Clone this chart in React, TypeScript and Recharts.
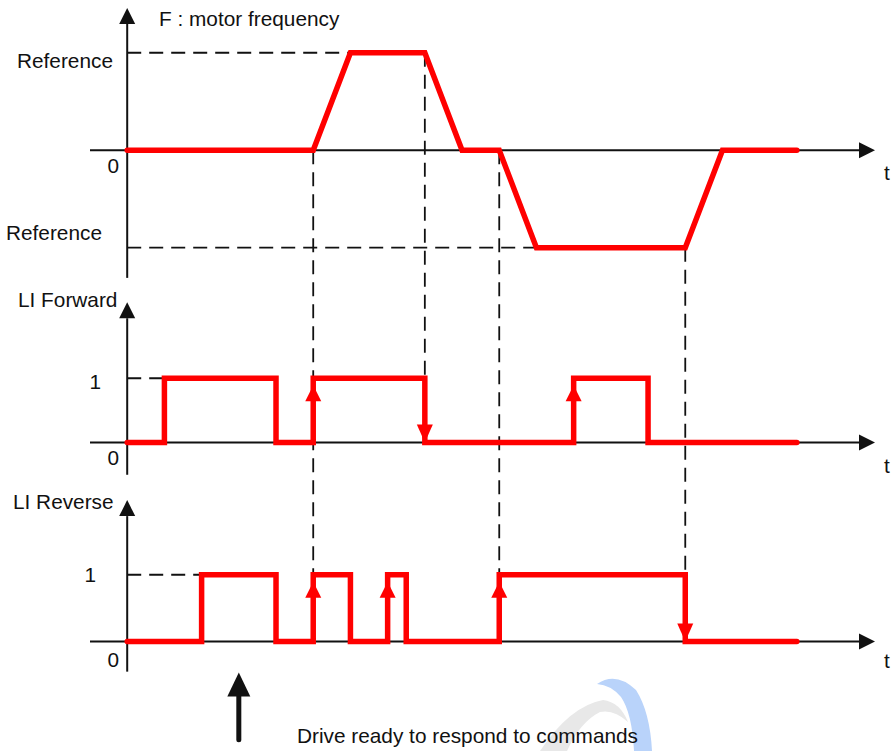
import { ComposedChart, Line, XAxis, YAxis, ReferenceLine, ReferenceDot } from "recharts";

// signal transitions: time (in ramp units) and level
const freqTimes = [0, 5, 6, 8, 9, 10, 11, 15, 16, 18];
const freqLevels = [0, 0, 1, 1, 0, 0, -1, -1, 0, 0];
const fwdTimes = [0, 1, 4, 5, 8, 12, 14, 18];
const fwdLevels = [0, 1, 0, 1, 0, 1, 0, 0];
const revTimes = [0, 2, 4, 5, 6, 7, 7.5, 10, 15, 18];
const revLevels = [0, 1, 0, 1, 0, 1, 0, 1, 0, 0];

// command edges marked with arrows
const fwdRises = [5, 12];
const fwdFalls = [8];
const revRises = [5, 7, 10];
const revFalls = [15];
const readyTime = 3;

// text
const laneTitles = ["F : motor frequency", "LI Forward", "LI Reverse"];
const levelLabels = ["Reference", "0", "Reference", "1", "0", "1", "0"];
const timeLabel = "t";
const note = "Drive ready to respond to commands";

type LaneKey = "freq" | "fwd" | "rev";

// dashed guides
const levelGuides: { lane: LaneKey; level: number; until: number }[] = [
  { lane: "freq", level: 1, until: 6 },
  { lane: "freq", level: -1, until: 11 },
  { lane: "fwd", level: 1, until: 1 },
  { lane: "rev", level: 1, until: 2 },
];
const timeGuides: { t: number; from: [LaneKey, number]; to: [LaneKey, number] }[] = [
  { t: 5, from: ["freq", 0], to: ["rev", 1] },
  { t: 8, from: ["freq", 1], to: ["fwd", 0] },
  { t: 10, from: ["freq", 0], to: ["rev", 1] },
  { t: 15, from: ["freq", -1], to: ["rev", 1] },
];

// layout of the three stacked lanes on the shared y axis
const lanes: Record<LaneKey, { base: number; gain: number; top: number; bottom: number }> = {
  freq: { base: 0, gain: 1, top: 1.46, bottom: -1.31 },
  fwd: { base: -3, gain: 0.66, top: 1.44, bottom: -0.33 },
  rev: { base: -5.04, gain: 0.684, top: 1.45, bottom: -0.31 },
};
const laneKeys: LaneKey[] = ["freq", "fwd", "rev"];

const laneY = (lane: LaneKey, v: number) => lanes[lane].base + lanes[lane].gain * v;
const rows = (times: number[], levels: number[], lane: LaneKey) =>
  times.map((t, i) => ({ t, y: laneY(lane, levels[i]) }));

const RED = "#ff0000";
const INK = "#111";
const FONT = '"Liberation Sans", Arial, sans-serif';

function AxisArrow(props: any) {
  const { x1, y1, x2, y2 } = props;
  const dx = x2 - x1;
  const dy = y2 - y1;
  const len = Math.hypot(dx, dy) || 1;
  const ux = dx / len;
  const uy = dy / len;
  const bx = x2 - ux * 16;
  const by = y2 - uy * 16;
  return (
    <g>
      <line x1={x1} y1={y1} x2={bx} y2={by} stroke={INK} strokeWidth={2} />
      <polygon
        points={`${x2},${y2} ${bx - uy * 8},${by + ux * 8} ${bx + uy * 8},${by - ux * 8}`}
        fill={INK}
      />
    </g>
  );
}

function ReadyArrow(props: any) {
  const { x1, y1, y2 } = props;
  const top = Math.min(y1, y2);
  const bottom = Math.max(y1, y2);
  return (
    <g>
      <line x1={x1} y1={bottom} x2={x1} y2={top + 22} stroke={INK} strokeWidth={5} strokeLinecap="round" />
      <polygon points={`${x1},${top} ${x1 - 11.5},${top + 24} ${x1 + 11.5},${top + 24}`} fill={INK} />
    </g>
  );
}

function UpHead(props: any) {
  const { cx, cy } = props;
  return <polygon points={`${cx},${cy + 7} ${cx - 8},${cy + 23} ${cx + 8},${cy + 23}`} fill={RED} />;
}

function DownHead(props: any) {
  const { cx, cy } = props;
  return <polygon points={`${cx},${cy} ${cx - 8},${cy - 18} ${cx + 8},${cy - 18}`} fill={RED} />;
}

function Watermark() {
  return (
    <g>
      <path d="M540 751 Q570 706 603 700 Q620 702 628 722 Q614 709 600 712 Q580 722 567 751 Z" fill="#e8e8e8" />
      <path d="M597 684 Q616 671 636 690 Q650 712 652 751 L634 751 Q632 713 621 697 Q611 685 597 684 Z" fill="#b9d3fa" />
    </g>
  );
}

function Texts() {
  const s = { fontFamily: FONT, fontSize: 20.8, fill: INK } as const;
  return (
    <g>
      <text x={159} y={26} {...s}>{laneTitles[0]}</text>
      <text x={18} y={307} {...s}>{laneTitles[1]}</text>
      <text x={13} y={509} {...s}>{laneTitles[2]}</text>
      <text x={17} y={68} {...s}>{levelLabels[0]}</text>
      <text x={119} y={173} textAnchor="end" {...s}>{levelLabels[1]}</text>
      <text x={6} y={240} {...s}>{levelLabels[2]}</text>
      <text x={101} y={389} textAnchor="end" {...s}>{levelLabels[3]}</text>
      <text x={119} y={465} textAnchor="end" {...s}>{levelLabels[4]}</text>
      <text x={96} y={582} textAnchor="end" {...s}>{levelLabels[5]}</text>
      <text x={119} y={667} textAnchor="end" {...s}>{levelLabels[6]}</text>
      <text x={884} y={180} {...s}>{timeLabel}</text>
      <text x={884} y={473} {...s}>{timeLabel}</text>
      <text x={884} y={668} {...s}>{timeLabel}</text>
      <text x={297} y={743} {...s}>{note}</text>
    </g>
  );
}

export default function App() {
  return (
    <div style={{ position: "absolute", left: 0, top: 0, width: 891, height: 751, background: "#fff" }}>
      <ComposedChart width={891} height={751} margin={{ top: 4, right: 16, bottom: 16, left: 90 }}>
        <Watermark />
        <XAxis type="number" dataKey="t" domain={[-1, 20.1]} allowDataOverflow hide />
        <YAxis type="number" dataKey="y" domain={[-6, 1.5]} allowDataOverflow hide />

        {levelGuides.map((g, i) => (
          <ReferenceLine
            key={`lg${i}`}
            segment={[
              { x: 0, y: laneY(g.lane, g.level) },
              { x: g.until, y: laneY(g.lane, g.level) },
            ]}
            stroke={INK}
            strokeWidth={1.8}
            strokeDasharray="14 8"
            ifOverflow="visible"
          />
        ))}
        {timeGuides.map((g, i) => (
          <ReferenceLine
            key={`tg${i}`}
            segment={[
              { x: g.t, y: laneY(g.from[0], g.from[1]) },
              { x: g.t, y: laneY(g.to[0], g.to[1]) },
            ]}
            stroke={INK}
            strokeWidth={1.8}
            strokeDasharray="14 8"
            ifOverflow="visible"
          />
        ))}

        {laneKeys.map((k) => (
          <ReferenceLine
            key={`xa${k}`}
            segment={[
              { x: -1, y: lanes[k].base },
              { x: 20.1, y: lanes[k].base },
            ]}
            shape={AxisArrow}
            ifOverflow="visible"
          />
        ))}
        {laneKeys.map((k) => (
          <ReferenceLine
            key={`ya${k}`}
            segment={[
              { x: 0, y: lanes[k].base + lanes[k].bottom },
              { x: 0, y: lanes[k].base + lanes[k].top },
            ]}
            shape={AxisArrow}
            ifOverflow="visible"
          />
        ))}

        <Line data={rows(freqTimes, freqLevels, "freq")} dataKey="y" type="linear" stroke={RED} strokeWidth={5.5} strokeLinecap="round" dot={false} activeDot={false} isAnimationActive={false} />
        <Line data={rows(fwdTimes, fwdLevels, "fwd")} dataKey="y" type="stepAfter" stroke={RED} strokeWidth={5.5} strokeLinecap="round" dot={false} activeDot={false} isAnimationActive={false} />
        <Line data={rows(revTimes, revLevels, "rev")} dataKey="y" type="stepAfter" stroke={RED} strokeWidth={5.5} strokeLinecap="round" dot={false} activeDot={false} isAnimationActive={false} />

        {fwdRises.map((t) => (
          <ReferenceDot key={`fr${t}`} x={t} y={laneY("fwd", 1)} shape={UpHead} ifOverflow="visible" />
        ))}
        {fwdFalls.map((t) => (
          <ReferenceDot key={`ff${t}`} x={t} y={laneY("fwd", 0)} shape={DownHead} ifOverflow="visible" />
        ))}
        {revRises.map((t) => (
          <ReferenceDot key={`rr${t}`} x={t} y={laneY("rev", 1)} shape={UpHead} ifOverflow="visible" />
        ))}
        {revFalls.map((t) => (
          <ReferenceDot key={`rf${t}`} x={t} y={laneY("rev", 0)} shape={DownHead} ifOverflow="visible" />
        ))}

        <ReferenceLine
          segment={[
            { x: readyTime, y: -6.05 },
            { x: readyTime, y: -5.36 },
          ]}
          shape={ReadyArrow}
          ifOverflow="visible"
        />

        <Texts />
      </ComposedChart>
    </div>
  );
}
